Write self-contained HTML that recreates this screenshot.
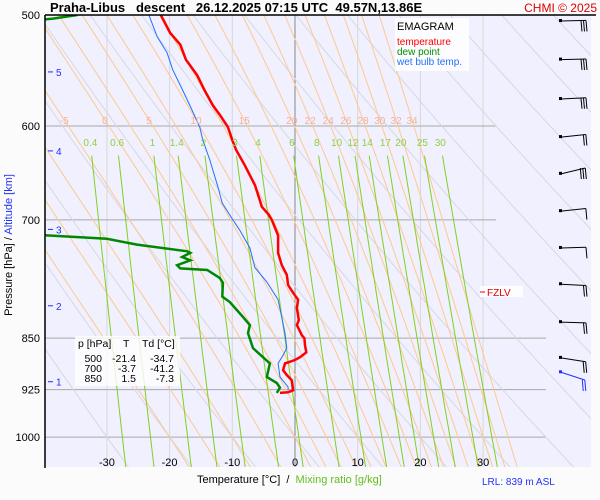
<!DOCTYPE html>
<html><head><meta charset="utf-8"><style>
body{margin:0;background:#fbfbfb;}
svg{display:block;font-family:"Liberation Sans",sans-serif;}
</style></head><body>
<svg id="c" width="600" height="500" xmlns="http://www.w3.org/2000/svg">
<defs><clipPath id="pc"><rect x="45" y="15" width="546" height="452"/></clipPath></defs>
<rect x="0" y="0" width="600" height="500" fill="#fbfbfb"/>
<rect x="45" y="15" width="546" height="452" fill="#f0f0fe"/>
<g id="grid" clip-path="url(#pc)"></g>
<g id="series" clip-path="url(#pc)"></g>
<g id="labels"></g>
<line x1="45" y1="15" x2="596" y2="15" stroke="#000" stroke-width="1.5"/>
<line x1="45" y1="15" x2="45" y2="468" stroke="#000" stroke-width="1.5"/>
<text x="50" y="12" font-size="13" font-weight="bold" xml:space="preserve">Praha-Libus   descent   26.12.2025 07:15 UTC  49.57N,13.86E</text>
<text x="597" y="12" font-size="12" fill="#e00000" text-anchor="end">CHMI © 2025</text>
<g>
<rect x="395" y="18" width="74" height="53" fill="#fff" opacity="0.85"/>
<text x="397" y="30" font-size="11">EMAGRAM</text>
<text x="397" y="45" font-size="10" fill="#ff0000">temperature</text>
<text x="397" y="55" font-size="10" fill="#009000">dew point</text>
<text x="397" y="65" font-size="10" fill="#2070ff">wet bulb temp.</text>
</g>
<g>
<rect x="480" y="286" width="43" height="11" fill="#fff" opacity="0.85"/>
<line x1="480" y1="292" x2="485" y2="292" stroke="#e00" stroke-width="1"/>
<text x="487" y="296" font-size="10" fill="#e00000">FZLV</text>
</g>
<g>
<rect x="75" y="336" width="105" height="50" fill="#fff" opacity="0.8"/>
<text font-size="10.5">
<tspan x="78" y="347">p [hPa]</tspan><tspan x="123" y="347">T</tspan><tspan x="142" y="347">Td [°C]</tspan>
</text>
<g font-size="10.5" text-anchor="end">
<text x="102" y="362">500</text><text x="136" y="362">-21.4</text><text x="174" y="362">-34.7</text>
<text x="102" y="372">700</text><text x="136" y="372">-3.7</text><text x="174" y="372">-41.2</text>
<text x="102" y="382">850</text><text x="136" y="382">1.5</text><text x="174" y="382">-7.3</text>
</g>
</g>
<text transform="translate(12,245) rotate(-90)" font-size="11" text-anchor="middle">Pressure [hPa]  /  <tspan fill="#2030ff">Altitude [km]</tspan></text>
<text x="197" y="483" font-size="11" xml:space="preserve">Temperature [°C]  /  <tspan fill="#60c020">Mixing ratio [g/kg]</tspan></text>
<text x="482" y="485" font-size="10" fill="#2030ff">LRL: 839 m ASL</text>
<g id="barbs"></g>
</svg>
<script>
// ---- data ----
const pressureTicks=[500,600,700,850,925,1000];
const tempTicks=[-30,-20,-10,0,10,20,30];
const altTicks=[1,2,3,4,5];
const altTickPressure=[913,806,711,625,549];
const tempP=[500,515,525,538,552,566,580,589,601,614,624,640,661,678,685,694,700,718,739,754,766,779,789,798,809,825,832,846,850,860,870,877,881,886,896,903,911,926,929,930];
const tempT=[-21.4,-19.9,-18.3,-17.4,-15.6,-14.4,-13.1,-12.0,-10.7,-10.0,-9.4,-8.0,-6.4,-5.6,-5.3,-4.2,-3.7,-2.7,-2.7,-2.1,-1.3,-1.1,-0.3,0.5,0.3,0.6,0.3,1.1,1.5,1.6,1.8,0.8,0.0,-1.6,-1.9,-1.3,-0.5,-0.3,-1.1,-2.4];
const dewP=[500,503,506,600,700,715,718,722,729,737,739,744,748,754,758,760,770,776,794,801,821,832,843,864,886,906,915,922,930];
const dewT=[-34.7,-38.6,-45,-46,-41.2,-41,-39.6,-30.0,-25.2,-17.2,-16.7,-18.0,-16.7,-18.8,-18.3,-14.0,-12.0,-11.5,-11.6,-10.4,-8.3,-7.2,-7.5,-6.7,-4.0,-4.5,-2.9,-2.4,-2.9];
const wetP=[497,500,518,532,547,566,581,601,614,634,663,681,700,712,733,757,775,798,843,864,874,886,906,921,926];
const wetT=[-23.3,-23.3,-22.0,-20.4,-19.5,-17.9,-16.7,-15.2,-14.7,-13.6,-12.3,-11.6,-9.9,-8.8,-7.2,-6.4,-4.5,-2.7,-1.6,-1.3,-1.9,-2.7,-2.4,-1.1,-1.1];
const moistLabels=[-5,0,5,10,15,20,22,24,26,28,30,32,34];
const moistExtra=[-20,-15,-10,2.5,7.5,12.5,17.5];
const dryTheta=[-30,-20,-10,0,10,20,30,40,50,60,70,80,90,100,110,120,130];
const mixRatios=[0.4,0.6,1,1.4,2,3,4,6,8,10,12,14,17,20,25,30];
const windP=[505,538,574,611,649,690,733,778,828,878,899];
const windBarbCount=[3,3,3,2,3,1,1,2,2,2,2];
const windAngle=[-1,-1,-2,-4,-9,-4,-1,2,1,6,12];

// ---- axes ----
const NS="http://www.w3.org/2000/svg";
const yOf=p=>15+609*Math.log(p/500);
const xOf=t=>295+6.27*t;
function mk(tag,attrs,parent){const e=document.createElementNS(NS,tag);for(const k in attrs)e.setAttribute(k,attrs[k]);parent.appendChild(e);return e;}
const grid=document.getElementById('grid'),series=document.getElementById('series'),labels=document.getElementById('labels'),barbs=document.getElementById('barbs');

tempTicks.forEach(t=>{
  const l=mk('line',{x1:xOf(t),y1:15,x2:xOf(t),y2:467,stroke:t===0?'#888':'#d8d8d8','stroke-width':1},grid);
  
  
  const tx=mk('text',{x:xOf(t),y:466,'font-size':11,'text-anchor':'middle'},labels);tx.textContent=t;
  
  
});
pressureTicks.forEach(p=>{
  const x2=p<=700?496:546;
  const l=mk('line',{x1:45,y1:yOf(p),x2:x2,y2:yOf(p),stroke:'#a8a8a8','stroke-width':1},grid);
  
  
  const tx=mk('text',{x:40,y:yOf(p)+4,'font-size':11,'text-anchor':'end'},labels);tx.textContent=p;
  
  
});
altTicks.forEach((a,i)=>{
  const y=yOf(altTickPressure[i]);
  const l=mk('line',{x1:48,y1:y,x2:53,y2:y,stroke:'#2030ff','stroke-width':1},labels);
  
  
  const tx=mk('text',{x:56,y:y+4,'font-size':10,fill:'#2030ff'},labels);tx.textContent=a;
  
  
});
function pathOf(ps,ts){return ps.map((p,i)=>(i?'L':'M')+xOf(ts[i]).toFixed(1)+','+yOf(p).toFixed(1)).join('');}
dryTheta.forEach(th=>{
  const ps=[],ts=[];for(let p=480;p<=1060;p+=10){ps.push(p);ts.push((th+273.15)*Math.pow(p/1000,0.2857)-273.15);}
  const e=mk('path',{d:pathOf(ps,ts),fill:'none',stroke:'#d8d8e0','stroke-width':1},grid);
  
  
});
function es(tc){return 6.112*Math.exp(17.67*tc/(tc+243.5));}
function moist(thw){
  const Rd=287,cp=1004,L=2.5e6,eps=0.622;
  const dTdp=(T,p)=>{const e=es(T-273.15),rs=eps*e/(p-e);return (Rd*T+L*rs)/(p*(cp+L*L*rs*eps/(Rd*T*T)));};
  const res={};let T=thw+273.15;
  for(let p=1000;p>=470;p-=2){res[p]=T-273.15;T-=2*dTdp(T,p);}
  T=thw+273.15;for(let p=1000;p<=1060;p+=2){res[p]=T-273.15;T+=2*dTdp(T,p);}
  return res;
}
const moistTempAt={};
moistLabels.concat(moistExtra).forEach(th=>{
  const r=moist(th);const ps=Object.keys(r).map(Number).sort((a,b)=>a-b);
  const e=mk('path',{d:pathOf(ps,ps.map(p=>r[p])),fill:'none',stroke:'#ffc890','stroke-width':1},grid);
  
  
  moistTempAt[th]=r[594];
});
moistLabels.forEach(th=>{
  const tx=mk('text',{x:xOf(moistTempAt[th]),y:124,'font-size':10,fill:'#f8b098','text-anchor':'middle'},labels);tx.textContent=th;
  
  
});
function tdOf(w,p){const e=w*p/(622+w),l=Math.log(e/6.112);return 243.5*l/(17.67-l);}
mixRatios.forEach(w=>{
  const ps=[],ts=[];for(let p=630;p<=1060;p+=10){ps.push(p);ts.push(tdOf(w,p));}
  const e=mk('path',{d:pathOf(ps,ts),fill:'none',stroke:'#80d020','stroke-width':1},grid);
  
  
  const tx=mk('text',{x:xOf(tdOf(w,617)),y:146,'font-size':10,fill:'#90d040','text-anchor':'middle'},labels);tx.textContent=w;
  
  
});
let s=mk('path',{d:pathOf(wetP,wetT),fill:'none',stroke:'#2070ff','stroke-width':1},series);


s=mk('path',{d:pathOf(dewP,dewT),fill:'none',stroke:'#008800','stroke-width':2.5},series);


s=mk('path',{d:pathOf(tempP,tempT),fill:'none',stroke:'#ff0000','stroke-width':2.5},series);


windP.forEach((p,i)=>{
  const y=yOf(p),blue=i===windP.length-1,col=blue?'#2030ff':'#000';
  const ang=windAngle[i]*Math.PI/180*1.5;
  const x0=561,len=25,x1=x0+len*Math.cos(ang),y1=y+len*Math.sin(ang);
  const g=mk('g',{},barbs);
  
  
  mk('rect',{x:x0-2,y:y-2,width:3,height:3,fill:col},g);
  mk('line',{x1:x0,y1:y,x2:x1,y2:y1,stroke:col,'stroke-width':1},g);
  for(let k=0;k<windBarbCount[i];k++){
    const bx=x1-k*2.5;
    mk('line',{x1:bx,y1:y1,x2:bx+1,y2:y1+11,stroke:col,'stroke-width':1},g);
  }
});
</script>
</body></html>
